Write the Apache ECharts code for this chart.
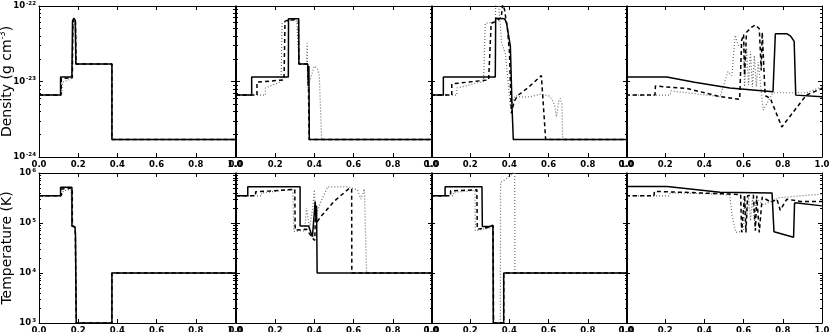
<!DOCTYPE html>
<html>
<head>
<meta charset="UTF-8">
<title>Density and temperature profiles</title>
<script src="https://cdn.jsdelivr.net/npm/echarts@6/dist/echarts.min.js"></script>
<style>
  html, body { margin: 0; padding: 0; background: #fff; }
  #main { width: 830px; height: 332px; }
</style>
</head>
<body>
<div id="main"></div>
<script type="text/javascript">
    // axis ranges and tick values
    var xTicks = [0, 0.2, 0.4, 0.6, 0.8, 1.0];
    var rhoRange = [1e-24, 1e-22];
    var tempRange = [1e3, 1e6];

    // density (g cm^-3), four snapshots: solid / dashed / dotted
    var rho1Solid = [[0,6.6e-24],[0.11,6.6e-24],[0.11,1.15e-23],[0.168,1.15e-23],[0.171,6.3e-23],[0.178,6.9e-23],[0.185,6.4e-23],[0.188,1.7e-23],[0.372,1.7e-23],[0.372,1.7e-24],[1,1.7e-24]];
    var rho1Dash = [[0,6.6e-24],[0.112,6.6e-24],[0.114,1.1e-23],[0.17,1.12e-23],[0.173,6.2e-23],[0.18,6.8e-23],[0.186,6.3e-23],[0.189,1.7e-23],[0.372,1.7e-23],[0.372,1.7e-24],[1,1.7e-24]];
    var rho1Dot = [[0,6.6e-24],[0.116,6.6e-24],[0.12,9.8e-24],[0.165,1.08e-23],[0.174,1.1e-23],[0.176,6.0e-23],[0.182,6.6e-23],[0.187,6.2e-23],[0.19,1.7e-23],[0.372,1.7e-23],[0.372,1.7e-24],[1,1.7e-24]];

    var rho2Solid = [[0,6.6e-24],[0.08,6.6e-24],[0.08,1.15e-23],[0.267,1.15e-23],[0.268,6.8e-23],[0.32,6.8e-23],[0.321,1.7e-23],[0.366,1.7e-23],[0.369,9e-24],[0.372,1.6e-23],[0.374,1.7e-24],[1,1.7e-24]];
    var rho2Dash = [[0,6.6e-24],[0.107,6.6e-24],[0.107,9.8e-24],[0.245,1.05e-23],[0.25,6.3e-23],[0.265,6.5e-23],[0.3,6.6e-23],[0.318,6.4e-23],[0.321,1.7e-23],[0.365,1.7e-23],[0.37,8e-24],[0.373,1.7e-24],[1,1.7e-24]];
    var rho2Dot = [[0,6.6e-24],[0.15,6.6e-24],[0.15,8.2e-24],[0.23,1.0e-23],[0.235,5.9e-23],[0.26,6.2e-23],[0.28,6.5e-23],[0.31,6.3e-23],[0.322,1.7e-23],[0.36,1.7e-23],[0.363,3.2e-23],[0.366,8.2e-24],[0.38,1.1e-23],[0.4,1.6e-23],[0.415,1.5e-23],[0.425,1.2e-23],[0.437,1.7e-24],[1,1.7e-24]];

    var rho3Solid = [[0,6.6e-24],[0.063,6.6e-24],[0.063,1.15e-23],[0.328,1.15e-23],[0.33,6.9e-23],[0.375,6.8e-23],[0.385,6e-23],[0.4,3.5e-23],[0.405,2.9e-23],[0.414,4.2e-24],[0.42,1.7e-24],[1,1.7e-24]];
    var rho3Dash = [[0,6.6e-24],[0.106,6.6e-24],[0.106,9.3e-24],[0.294,1.05e-23],[0.307,5.9e-23],[0.33,6.2e-23],[0.358,7e-23],[0.366,1.05e-22],[0.375,9e-23],[0.39,5e-23],[0.4,2.5e-23],[0.41,3.8e-24],[0.425,5.5e-24],[0.445,6.6e-24],[0.5,8.5e-24],[0.563,1.2e-23],[0.585,1.7e-24],[1,1.7e-24]];
    var rho3Dot = [[0,6.6e-24],[0.132,6.6e-24],[0.132,8.2e-24],[0.268,1.0e-23],[0.277,5.9e-23],[0.31,6.1e-23],[0.328,6.3e-23],[0.33,1.05e-22],[0.345,1.05e-22],[0.36,3.3e-23],[0.38,2.3e-23],[0.405,4.7e-24],[0.43,6.5e-24],[0.46,6.2e-24],[0.51,6.3e-24],[0.56,6.8e-24],[0.605,6.4e-24],[0.63,5e-24],[0.64,3.4e-24],[0.652,5.5e-24],[0.66,6e-24],[0.668,5e-24],[0.672,1.7e-24],[1,1.7e-24]];

    var rho4Solid = [[0,1.15e-23],[0.208,1.15e-23],[0.35,9.8e-24],[0.53,8.2e-24],[0.75,7.3e-24],[0.758,7e-24],[0.762,4.3e-23],[0.82,4.3e-23],[0.84,4e-23],[0.858,3.4e-23],[0.866,6.6e-24],[1,6.3e-24]];
    var rho4Dash = [[0,6.6e-24],[0.148,6.6e-24],[0.15,8.7e-24],[0.31,8.1e-24],[0.48,6.3e-24],[0.58,5.8e-24],[0.59,3.5e-23],[0.6,4.2e-23],[0.605,1.2e-23],[0.615,4.5e-23],[0.64,5.2e-23],[0.66,5.6e-23],[0.68,5.0e-23],[0.69,1.4e-23],[0.695,4.5e-23],[0.71,6.5e-24],[0.736,6e-24],[0.795,2.5e-24],[0.838,3.5e-24],[0.92,6.6e-24],[1,8.1e-24]];
    var rho4Dot = [[0,6.6e-24],[0.225,6.6e-24],[0.23,7.5e-24],[0.48,6.3e-24],[0.52,1.35e-23],[0.54,1.2e-23],[0.557,4.1e-23],[0.573,3e-23],[0.6,3.2e-23],[0.605,8.5e-24],[0.615,2.8e-23],[0.625,9e-24],[0.635,2.5e-23],[0.645,8.5e-24],[0.655,2.2e-23],[0.665,8.5e-24],[0.675,1.8e-23],[0.7,4.2e-24],[0.75,7.1e-24],[0.92,7.1e-24],[1,8.5e-24]];

    // temperature (K), same snapshots
    var temp1Solid = [[0,3.5e5],[0.11,3.5e5],[0.11,5.2e5],[0.168,5.2e5],[0.168,8.6e4],[0.183,8.4e4],[0.186,6e4],[0.19,1e3],[0.372,1e3],[0.372,1e4],[1,1e4]];
    var temp1Dash = [[0,3.5e5],[0.113,3.5e5],[0.115,4.8e5],[0.17,5e5],[0.17,8.8e4],[0.185,8.2e4],[0.19,1e3],[0.372,1e3],[0.372,1e4],[1,1e4]];
    var temp1Dot = [[0,3.5e5],[0.118,3.5e5],[0.124,4.4e5],[0.162,4.7e5],[0.172,4.7e5],[0.173,9e4],[0.186,8e4],[0.191,1e3],[0.372,1e3],[0.372,1e4],[1,1e4]];

    var temp2Solid = [[0,3.5e5],[0.06,3.5e5],[0.06,5.3e5],[0.327,5.3e5],[0.327,8.7e4],[0.37,8.7e4],[0.39,5.3e4],[0.4,4.9e4],[0.404,2.7e5],[0.408,1.2e5],[0.411,2.2e5],[0.414,1e4],[1,1e4]];
    var temp2Dash = [[0,3.5e5],[0.1,3.5e5],[0.1,4.2e5],[0.3,4.7e5],[0.302,7.2e4],[0.36,7.5e4],[0.39,5e4],[0.402,4.5e4],[0.406,2.2e5],[0.41,1e5],[0.43,1.3e5],[0.5,2.7e5],[0.577,4.9e5],[0.59,4.9e5],[0.591,1e4],[1,1e4]];
    var temp2Dot = [[0,3.5e5],[0.13,3.5e5],[0.13,4e5],[0.29,4.7e5],[0.295,6.8e4],[0.35,7e4],[0.36,2e5],[0.375,8e4],[0.39,1.8e5],[0.4,4.6e5],[0.405,1.3e5],[0.43,2.5e5],[0.468,5.3e5],[0.57,5.3e5],[0.62,4.6e5],[0.638,3e5],[0.655,4.8e5],[0.665,4.8e5],[0.666,1e4],[1,1e4]];

    var temp3Solid = [[0,3.5e5],[0.072,3.5e5],[0.072,5.3e5],[0.26,5.3e5],[0.262,8.5e4],[0.3,8.5e4],[0.316,9e4],[0.318,1e3],[0.371,1e3],[0.371,1e4],[1,1e4]];
    var temp3Dash = [[0,3.5e5],[0.1,3.5e5],[0.1,4.4e5],[0.234,4.6e5],[0.236,7.5e4],[0.3,8.3e4],[0.317,8.8e4],[0.319,1e3],[0.371,1e3],[0.371,1e4],[1,1e4]];
    var temp3Dot = [[0,3.5e5],[0.114,3.5e5],[0.114,4.1e5],[0.225,4.5e5],[0.226,7e4],[0.3,8e4],[0.315,8.5e4],[0.317,1e3],[0.354,1e3],[0.355,6.5e5],[0.37,7e5],[0.427,1.05e6],[0.428,1e4],[1,1e4]];

    var temp4Solid = [[0,5.4e5],[0.21,5.4e5],[0.48,4.1e5],[0.745,4e5],[0.752,4.2e5],[0.755,6.7e4],[0.855,5.2e4],[0.86,2.5e5],[0.875,2.5e5],[1,2.2e5]];
    var temp4Dash = [[0,3.5e5],[0.143,3.5e5],[0.145,4.3e5],[0.3,4.1e5],[0.53,3.8e5],[0.585,3.7e5],[0.59,6.5e4],[0.6,7e4],[0.605,3.6e5],[0.612,6.5e4],[0.62,3.5e5],[0.65,3.6e5],[0.66,7e4],[0.667,3.5e5],[0.68,6.5e4],[0.69,6.5e4],[0.695,3.3e5],[0.74,2.6e5],[0.77,3e5],[0.787,1.8e5],[0.82,3e5],[0.89,2.7e5],[1,2.7e5]];
    var temp4Dot = [[0,3.5e5],[0.22,3.5e5],[0.225,4e5],[0.48,3.8e5],[0.53,3.6e5],[0.54,1.5e5],[0.56,6.5e4],[0.6,6.8e4],[0.605,3.5e5],[0.615,1.2e5],[0.625,3.3e5],[0.635,1.1e5],[0.645,3.2e5],[0.655,1.1e5],[0.665,3e5],[0.68,2.8e5],[0.7,2.3e5],[0.78,3.2e5],[1,3.8e5]];

    var panels = [
        {row: 0, col: 0, lines: [rho1Solid, rho1Dash, rho1Dot]},
        {row: 0, col: 1, lines: [rho2Solid, rho2Dash, rho2Dot]},
        {row: 0, col: 2, lines: [rho3Solid, rho3Dash, rho3Dot]},
        {row: 0, col: 3, lines: [rho4Solid, rho4Dash, rho4Dot]},
        {row: 1, col: 0, lines: [temp1Solid, temp1Dash, temp1Dot]},
        {row: 1, col: 1, lines: [temp2Solid, temp2Dash, temp2Dot]},
        {row: 1, col: 2, lines: [temp3Solid, temp3Dash, temp3Dot]},
        {row: 1, col: 3, lines: [temp4Solid, temp4Dash, temp4Dot]}
    ];

    // layout (px)
    var colLeft = [39, 236, 431, 626];
    var panelW = 196;
    var rowTop = [6, 173];
    var rowH = [151, 150];
    var rowRange = [rhoRange, tempRange];
    var rowName = ['Density (g cm{s|-3})', 'Temperature (K)'];

    // label for a decade: "10" with a small raised exponent
    function powLabel(e) {
        return '{b|10}{s|' + Math.round(e) + '}';
    }
    // minor tick positions (log10) at 2..9 x 10^n
    function minorLogs(lo, hi) {
        var out = [];
        for (var n = lo; n < hi; n++) {
            for (var k = 2; k <= 9; k++) out.push(n + Math.log10(k));
        }
        return out;
    }

    var font = 'DejaVu Sans';
    var black = '#000';
    var grid = [], xAxis = [], yAxis = [], series = [];

    panels.forEach(function (p, g) {
        var range = rowRange[p.row];
        var lo = Math.round(Math.log10(range[0])), hi = Math.round(Math.log10(range[1]));
        grid.push({
            left: colLeft[p.col], top: rowTop[p.row], width: panelW, height: rowH[p.row],
            outerBoundsMode: 'none'
        });
        // bottom x axis with labels
        xAxis.push({
            type: 'value', gridIndex: g, min: 0, max: 1, interval: 0.2, position: 'bottom',
            axisLine: {show: true, lineStyle: {color: black, width: 1}},
            axisTick: {show: true, inside: true, length: 4, lineStyle: {color: black}},
            axisLabel: {show: true, margin: 3, color: black, fontSize: 8.5, fontWeight: 'bold', fontFamily: font,
                formatter: function (v) { return v.toFixed(1); }},
            splitLine: {show: false}
        });
        // top x axis, ticks only
        xAxis.push({
            type: 'value', gridIndex: g, min: 0, max: 1, interval: 0.2, position: 'top',
            axisLine: {show: true, lineStyle: {color: black, width: 1}},
            axisTick: {show: true, inside: true, length: 4, lineStyle: {color: black}},
            axisLabel: {show: false}, splitLine: {show: false}
        });
        // the log axis that carries the data
        yAxis.push({
            type: 'log', logBase: 10, gridIndex: g, min: range[0], max: range[1], position: 'left',
            axisLine: {show: false}, axisTick: {show: false}, axisLabel: {show: false},
            splitLine: {show: false}, minorTick: {show: false}
        });
        // decade ticks, drawn in log10 space (left with labels, right mirrored)
        ['left', 'right'].forEach(function (side) {
            var showLab = side === 'left' && p.col === 0;
            var major = {
                type: 'value', gridIndex: g, position: side, min: lo, max: hi, interval: 1,
                axisLine: {show: true, lineStyle: {color: black, width: 1}},
                axisTick: {show: true, inside: true, length: 4, lineStyle: {color: black}},
                axisLabel: {show: showLab, margin: 3, color: black, fontFamily: font, formatter: powLabel,
                    rich: {
                        b: {fontSize: 8.5, fontWeight: 'bold', fontFamily: font, color: black, lineHeight: 11},
                        s: {fontSize: 5.5, fontWeight: 'bold', fontFamily: font, color: black,
                            lineHeight: 6, verticalAlign: 'top', padding: [0, 0, 0, 1]}
                    }},
                splitLine: {show: false}
            };
            if (showLab) {
                major.name = rowName[p.row];
                major.nameLocation = 'middle';
                major.nameGap = 24;
                major.nameMoveOverlap = false;
                major.nameTextStyle = {color: black, fontSize: 14, fontFamily: font, lineHeight: 16,
                    rich: {s: {fontSize: 8, fontFamily: font, color: black, lineHeight: 9, verticalAlign: 'top'}}};
            }
            yAxis.push(major);
        });
        // minor ticks at 2..9
        ['left', 'right'].forEach(function (side) {
            yAxis.push({
                type: 'value', gridIndex: g, position: side, min: lo, max: hi,
                axisLine: {show: false},
                axisTick: {show: true, inside: true, length: 2, lineStyle: {color: black},
                    customValues: minorLogs(lo, hi)},
                axisLabel: {show: false}, splitLine: {show: false}
            });
        });

        var styles = [
            {color: black, width: 1.5, type: 'solid', z: 4},
            {color: black, width: 1.5, type: [4, 3], z: 3},
            {color: '#6e6e6e', width: 1.2, type: [1, 2], z: 2}
        ];
        p.lines.forEach(function (data, i) {
            series.push({
                type: 'line', xAxisIndex: g * 2, yAxisIndex: g * 5,
                data: data, showSymbol: false, symbol: 'none', clip: true, z: styles[i].z,
                lineStyle: {color: styles[i].color, width: styles[i].width, type: styles[i].type},
                emphasis: {disabled: true}
            });
        });
    });

    var myChart = echarts.init(document.getElementById('main'));
    myChart.setOption({
        animation: false,
        backgroundColor: '#fff',
        grid: grid,
        xAxis: xAxis,
        yAxis: yAxis,
        series: series
    });
</script>
</body>
</html>
